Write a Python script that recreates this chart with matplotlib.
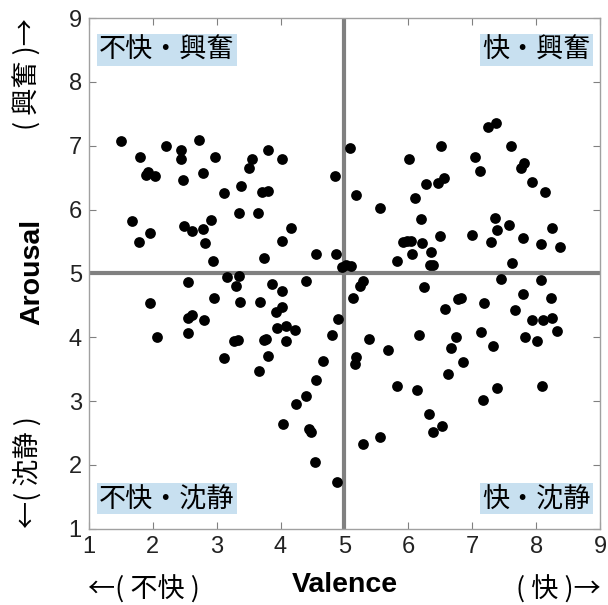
import matplotlib
matplotlib.use("Agg")
import matplotlib.pyplot as plt
import numpy as np

# valence / arousal ratings
valence = [
    1.50, 1.80, 2.21, 2.44, 2.44, 2.73, 2.97, 1.93, 1.90, 2.04,
    2.48, 2.79, 3.56, 3.80, 4.02, 3.50, 3.11, 3.38, 3.71, 3.80,
    4.86, 5.08, 1.67, 1.78, 1.96, 2.49, 2.62, 2.78, 2.92, 2.82,
    2.94, 3.35, 3.64, 4.16, 4.03, 3.74, 4.55, 4.87, 4.96, 5.03,
    5.10,
    # upper right
    5.18, 5.55, 6.01, 6.51, 6.28, 6.46, 6.56, 6.10, 6.20, 5.91,
    5.98, 6.04, 6.22, 6.50, 6.05, 6.36, 5.83, 6.34, 6.39, 7.04,
    7.12, 7.24, 7.37, 7.61, 7.81, 7.77, 7.94, 8.14, 7.36, 7.38,
    7.57, 6.99, 7.29, 7.79, 8.07, 8.25, 8.38, 7.62,
    # lower left
    2.55, 3.16, 3.35, 3.31, 3.86, 4.03, 4.40, 1.96, 2.96, 3.37,
    3.68, 4.03, 3.93, 2.61, 2.55, 2.81, 2.06, 2.55, 3.94, 4.09,
    4.22, 3.28, 3.34, 3.74, 3.78, 4.08, 3.11, 3.80, 3.66, 4.90,
    4.80, 4.66, 4.55, 4.40, 4.24, 4.04, 4.45, 4.47, 4.54, 4.89,
    # lower right
    5.29, 5.25, 5.14, 6.25, 6.57, 6.77, 6.83, 7.18, 7.45, 8.07,
    7.80, 8.23, 7.67, 7.93, 8.10, 8.25, 8.32, 7.83, 8.01, 7.14,
    7.32, 6.74, 6.67, 6.17, 6.86, 6.62, 5.38, 5.18, 5.17, 5.68,
    5.82, 6.14, 6.33, 6.53, 6.39, 7.17, 7.39, 8.09, 5.29, 5.55,
]
arousal = [
    7.07, 6.82, 6.99, 6.93, 6.80, 7.09, 6.82, 6.59, 6.54, 6.52,
    6.46, 6.57, 6.79, 6.93, 6.80, 6.65, 6.26, 6.37, 6.28, 6.29,
    6.52, 6.97, 5.82, 5.50, 5.64, 5.75, 5.66, 5.69, 5.83, 5.48,
    5.20, 5.94, 5.95, 5.72, 5.51, 5.25, 5.31, 5.30, 5.10, 5.13,
    5.11,
    6.23, 6.03, 6.79, 6.99, 6.40, 6.41, 6.49, 6.19, 5.85, 5.50,
    5.51, 5.51, 5.48, 5.58, 5.30, 5.34, 5.20, 5.13, 5.13, 6.83,
    6.61, 7.30, 7.35, 6.99, 6.73, 6.65, 6.44, 6.28, 5.87, 5.68,
    5.76, 5.60, 5.49, 5.56, 5.46, 5.71, 5.41, 5.16,
    4.86, 4.95, 4.96, 4.81, 4.83, 4.72, 4.88, 4.53, 4.61, 4.55,
    4.55, 4.47, 4.39, 4.35, 4.31, 4.27, 4.00, 4.07, 4.14, 4.17,
    4.11, 3.94, 3.96, 3.96, 3.97, 3.94, 3.68, 3.70, 3.47, 4.29,
    4.03, 3.63, 3.33, 3.08, 2.96, 2.64, 2.56, 2.52, 2.04, 1.73,
    4.88, 4.80, 4.61, 4.79, 4.44, 4.60, 4.61, 4.54, 4.91, 4.90,
    4.68, 4.61, 4.43, 4.27, 4.27, 4.31, 4.10, 4.00, 3.94, 4.09,
    3.87, 4.00, 3.83, 4.03, 3.61, 3.43, 3.97, 3.69, 3.58, 3.80,
    3.24, 3.18, 2.80, 2.61, 2.52, 3.01, 3.20, 3.23, 2.33, 2.43,
]

quad_labels = ["不快・興奮", "快・興奮", "不快・沈静", "快・沈静"]
ticks = list(range(1, 10))

jp = ["Noto Sans CJK JP", "DejaVu Sans"]
latin = ["Liberation Sans", "DejaVu Sans"]
gray = "#808080"

fig = plt.figure(figsize=(6.08, 6.05), dpi=100)
ax = fig.add_axes([0.146, 0.126, 0.841, 0.844])

ax.axvline(5, color=gray, lw=3, zorder=1)
ax.axhline(5, color=gray, lw=3, zorder=1)
ax.scatter(valence, arousal, s=60, color="black", zorder=3, linewidths=0)

ax.set_xlim(1, 9)
ax.set_ylim(1, 9)
ax.set_xticks(ticks)
ax.set_yticks(ticks)
ax.tick_params(direction="in", top=True, right=True, length=5, color=gray,
               labelsize=17, pad=5)
for lab in ax.get_xticklabels() + ax.get_yticklabels():
    lab.set_family(latin)
    lab.set_color("#222222")
for sp in ax.spines.values():
    sp.set_color("#a0a0a0")
    sp.set_linewidth(1)

box = dict(facecolor="#c8e0f0", edgecolor="none", pad=1.5)
fs_q = 19.5
ax.text(1.16, 8.50, quad_labels[0], ha="left", va="center", fontsize=fs_q, family=jp, bbox=box)
ax.text(8.85, 8.50, quad_labels[1], ha="right", va="center", fontsize=fs_q, family=jp, bbox=box)
ax.text(1.16, 1.47, quad_labels[2], ha="left", va="center", fontsize=fs_q, family=jp, bbox=box)
ax.text(8.85, 1.47, quad_labels[3], ha="right", va="center", fontsize=fs_q, family=jp, bbox=box)

fig.text(0.567, 0.033, "Valence", ha="center", va="center", fontsize=20.5,
         fontweight="bold", family=latin)
fig.text(0.053, 0.55, "Arousal", ha="center", va="center", fontsize=20.5,
         fontweight="bold", family=latin, rotation=90)
fig.text(0.237, 0.026, "←( 不快 )", ha="center", va="center", fontsize=19.5, family=jp)
fig.text(0.918, 0.026, "( 快 )→", ha="center", va="center", fontsize=19.5, family=jp)
fig.text(0.046, 0.878, "( 興奮 )→", ha="center", va="center", fontsize=19.5, family=jp, rotation=90)
fig.text(0.046, 0.22, "←( 沈静 )", ha="center", va="center", fontsize=19.5, family=jp, rotation=90)

fig.savefig("out.png", dpi=100)
